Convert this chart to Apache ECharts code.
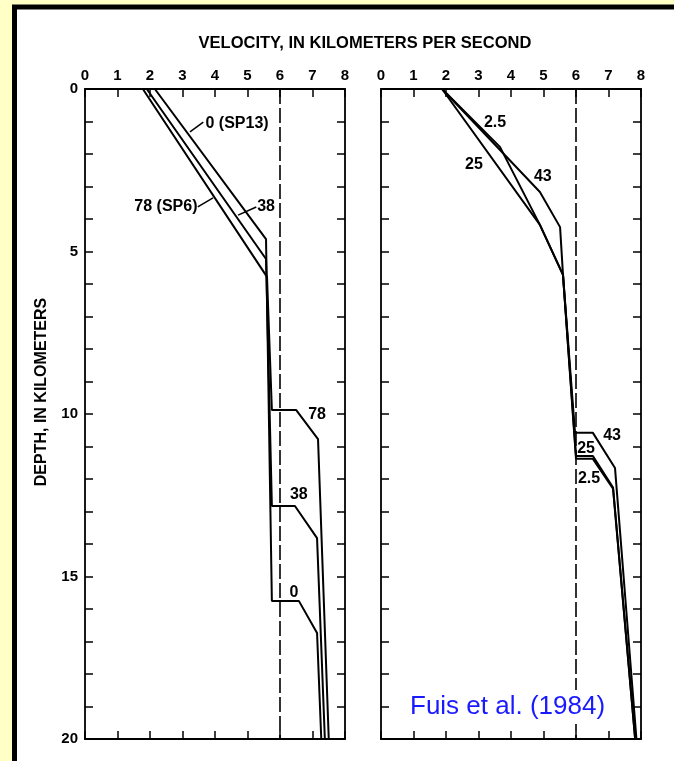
<!DOCTYPE html>
<html>
<head>
<meta charset="utf-8">
<script src="https://cdn.jsdelivr.net/npm/echarts@6/dist/echarts.min.js"></script>
<style>html,body{margin:0;padding:0;background:#ffffc6;}#c{width:674px;height:761px;}</style>
</head>
<body>
<div id="c"></div>
<script>
// ---- data (velocity km/s, depth km) ----
const velocityTicks = [0, 1, 2, 3, 4, 5, 6, 7, 8];
const depthTickLabels = [0, 5, 10, 15, 20];
const referenceVelocity = 6;

// Left panel profiles
const leftNames = ['0 (SP13)', '38', '78 (SP6)'];
const left0  = [[2.15,0],[5.57,4.62],[5.75,15.75],[6.58,15.75],[7.14,16.74],[7.27,20]];
const left38 = [[1.90,0],[5.57,5.23],[5.75,12.83],[6.46,12.83],[7.14,13.82],[7.38,20]];
const left78 = [[1.78,0],[5.60,5.78],[5.75,9.88],[6.50,9.88],[7.17,10.77],[7.50,20]];

// Right panel profiles
const rightNames = ['2.5', '25', '43'];
const right2_5 = [[1.88,0],[3.66,1.78],[4.89,4.18],[5.60,5.72],[6.00,11.38],[6.52,11.38],[7.14,12.30],[7.82,20]];
const right25  = [[1.88,0],[4.89,4.18],[5.60,5.72],[6.00,11.29],[6.52,11.29],[7.14,12.26],[7.82,20]];
const right43  = [[1.88,0],[4.89,3.17],[5.51,4.25],[5.60,5.72],[5.97,10.58],[6.52,10.58],[7.20,11.66],[7.86,20]];

// Annotations: [panel, text, velocity, depth]
const annotations = [
  [0,'0 (SP13)',4.68,1.05],[0,'38',5.57,3.63],[0,'78 (SP6)',2.49,3.63],
  [0,'78',7.14,10.03],[0,'38',6.58,12.49],[0,'0',6.43,15.48],
  [1,'2.5',3.51,1.02],[1,'25',2.86,2.34],[1,'43',4.98,2.68],
  [1,'43',7.11,10.65],[1,'25',6.31,11.05],[1,'2.5',6.40,12.00]
];
// Leader lines: [panel, v1, d1, v2, d2]
const leaders = [
  [0,3.23,1.32,3.64,1.02],
  [0,4.71,3.88,5.27,3.63],
  [0,3.47,3.63,3.94,3.35]
];

const FONT = '"Liberation Sans", Arial, Helvetica, sans-serif';
const chart = echarts.init(document.getElementById('c'));

function xAx(grid, pos, labels) {
  return {
    type:'value', gridIndex:grid, position:pos, min:0, max:8, interval:1,
    axisLine:{show:true, onZero:false, lineStyle:{color:'#000', width:1.8}},
    axisTick:{show:true, inside:true, length:8, lineStyle:{color:'#000', width:1.5}},
    axisLabel:{show:labels, margin:6, color:'#000', fontFamily:FONT, fontWeight:'bold', fontSize:15,
      formatter: v => velocityTicks.includes(v) ? String(v) : ''},
    splitLine:{show:false}
  };
}
function yAx(grid, pos, labels) {
  return {
    type:'value', gridIndex:grid, position:pos, min:0, max:20, interval:1, inverse:true,
    axisLine:{show:true, onZero:false, lineStyle:{color:'#000', width:1.8}},
    axisTick:{show:true, inside:true, length:8, lineStyle:{color:'#000', width:1.5}},
    axisLabel:{show:labels, margin:7, color:'#000', fontFamily:FONT, fontWeight:'bold', fontSize:15,
      formatter: v => depthTickLabels.includes(v) ? String(v) : ''},
    splitLine:{show:false}
  };
}
function line(data, xi, yi) {
  return {type:'line', data:data, xAxisIndex:xi, yAxisIndex:yi, symbol:'none', showSymbol:false,
    lineStyle:{color:'#000', width:2}, silent:true, z:3};
}
function refLine(xi, yi) {
  return {type:'line', data:[], xAxisIndex:xi, yAxisIndex:yi, symbol:'none', silent:true,
    markLine:{symbol:'none', silent:true, label:{show:false},
      lineStyle:{color:'#000', width:1.6, type:[15,4]},
      data:[{xAxis:referenceVelocity}]}};
}

chart.setOption({
  animation:false,
  backgroundColor:'#ffffc6',
  grid:[
    {left:85, top:89, width:260, height:650},
    {left:381, top:89, width:260, height:650}
  ],
  xAxis:[xAx(0,'top',true), xAx(0,'bottom',false), xAx(1,'top',true), xAx(1,'bottom',false)],
  yAxis:[yAx(0,'left',true), yAx(0,'right',false), yAx(1,'left',false), yAx(1,'right',false)],
  series:[
    refLine(0,0), refLine(2,2),
    line(left0,0,0), line(left38,0,0), line(left78,0,0),
    line(right2_5,2,2), line(right25,2,2), line(right43,2,2)
  ]
});

const g = [
  {type:'rect', z:-20, shape:{x:12, y:4.5, width:700, height:800}, style:{fill:'#000'}},
  {type:'rect', z:-19, shape:{x:17, y:9.5, width:700, height:800}, style:{fill:'#fff'}},
  {type:'text', z:50, x:365, y:43, style:{text:'VELOCITY, IN KILOMETERS PER SECOND', fill:'#000',
    font:'bold 16.5px ' + FONT, textAlign:'center', textVerticalAlign:'middle'}},
  {type:'text', z:50, x:42, y:392, rotation:Math.PI/2, style:{text:'DEPTH, IN KILOMETERS', fill:'#000',
    font:'bold 16px ' + FONT, textAlign:'center', textVerticalAlign:'middle'}},
  {type:'text', z:50, x:407, y:707, style:{text:'Fuis et al. (1984)', fill:'#1a1aff',
    font:'26px ' + FONT, textAlign:'left', textVerticalAlign:'middle',
    backgroundColor:'#fff', padding:[4,3,4,3]}}
];
annotations.forEach(a => {
  const p = chart.convertToPixel({gridIndex:a[0]}, [a[2], a[3]]);
  g.push({type:'text', z:50, x:p[0], y:p[1], style:{text:a[1], fill:'#000',
    font:'bold 16px ' + FONT, textAlign:'center', textVerticalAlign:'middle'}});
});
leaders.forEach(l => {
  const p1 = chart.convertToPixel({gridIndex:l[0]}, [l[1], l[2]]);
  const p2 = chart.convertToPixel({gridIndex:l[0]}, [l[3], l[4]]);
  g.push({type:'line', z:50, shape:{x1:p1[0], y1:p1[1], x2:p2[0], y2:p2[1]}, style:{stroke:'#000', lineWidth:1.5}});
});
chart.setOption({graphic:g});
</script>
</body>
</html>
